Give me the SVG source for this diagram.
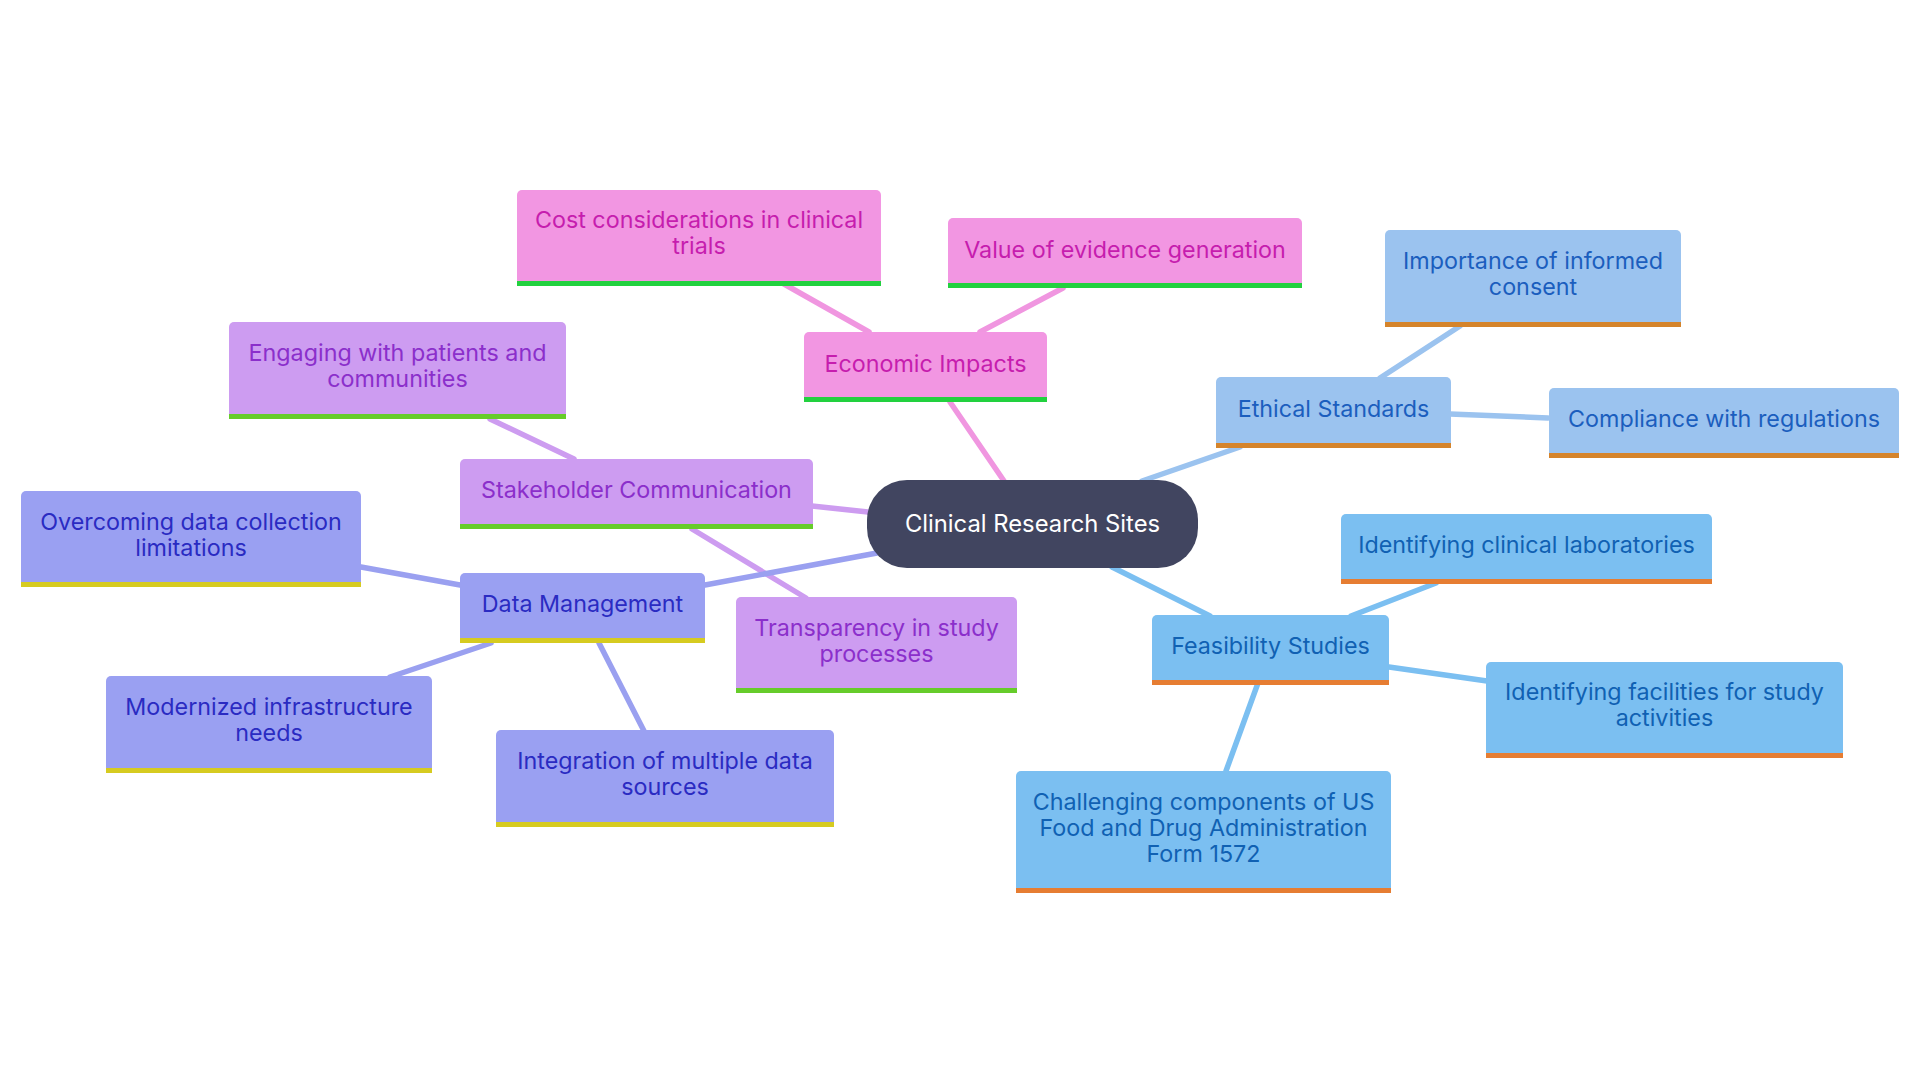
<svg xmlns="http://www.w3.org/2000/svg" width="1920" height="1080" viewBox="0 0 1920 1080">
<style>
text{font-family:Inter,"Noto Sans","Liberation Sans",sans-serif;font-size:23.3px;text-anchor:middle}
.bx{stroke:none}
.econ .bx{fill:#F296E2}.econ text{fill:#C61DAE}.econ .bar{fill:#22D13F}
.stak .bx{fill:#CD9CF1}.stak text{fill:#8B2FCB}.stak .bar{fill:#66CC2A}
.data .bx{fill:#9AA0F2}.data text{fill:#2A2BC2}.data .bar{fill:#D6CB20}
.eth .bx{fill:#9BC3EF}.eth text{fill:#1B5EBE}.eth .bar{fill:#D5842B}
.feas .bx{fill:#7BBFF1}.feas text{fill:#1061B3}.feas .bar{fill:#E67D32}
.root rect{fill:#414560}.root text{fill:#FFFFFF;font-size:23.8px}
#connectors line{stroke-width:5.5;stroke-linecap:round}
.c-econ{stroke:#F096E0}.c-stak{stroke:#CD9CF0}.c-data{stroke:#9AA0F0}.c-eth{stroke:#9BC3EF}.c-feas{stroke:#7BBFF1}
</style>
<rect width="1920" height="1080" fill="#FFFFFF"/>
<g id="connectors">
<line class="c-econ" x1="1004" y1="481" x2="950" y2="402"/>
<line class="c-econ" x1="869" y1="332" x2="784" y2="284"/>
<line class="c-econ" x1="980" y1="332" x2="1063" y2="288"/>
<line class="c-eth" x1="1142" y1="481" x2="1240" y2="447"/>
<line class="c-eth" x1="1380" y1="378" x2="1460" y2="326"/>
<line class="c-eth" x1="1450" y1="414" x2="1548" y2="418"/>
<line class="c-feas" x1="1112" y1="567" x2="1210" y2="616"/>
<line class="c-feas" x1="1351" y1="616" x2="1436" y2="583"/>
<line class="c-feas" x1="1389" y1="667" x2="1487" y2="681"/>
<line class="c-feas" x1="1258" y1="683" x2="1226" y2="771"/>
<line class="c-stak" x1="868" y1="512" x2="812" y2="506"/>
<line class="c-stak" x1="574" y1="459" x2="490" y2="419"/>
<line class="c-stak" x1="692" y1="529" x2="806" y2="598"/>
<line class="c-data" x1="877" y1="553" x2="705" y2="585"/>
<line class="c-data" x1="460" y1="585" x2="361" y2="567"/>
<line class="c-data" x1="491" y1="643" x2="390" y2="677"/>
<line class="c-data" x1="599" y1="643" x2="644" y2="731"/>
</g>
<g id="root" class="root">
<rect x="867" y="480" width="331" height="88" rx="40"/>
<text x="1032.5" y="531.5">Clinical Research Sites</text>
</g>
<g id="economic-impacts" class="econ">
<rect class="bx" x="804" y="332" width="243" height="70" rx="5"/>
<rect class="bar" x="804" y="397" width="243" height="5"/>
<text x="925.5" y="372">Economic Impacts</text>
</g>
<g id="cost-considerations" class="econ">
<rect class="bx" x="517" y="190" width="364" height="96" rx="5"/>
<rect class="bar" x="517" y="281" width="364" height="5"/>
<text x="699" y="228">Cost considerations in clinical</text>
<text x="699" y="254">trials</text>
</g>
<g id="value-evidence" class="econ">
<rect class="bx" x="948" y="218" width="354" height="70" rx="5"/>
<rect class="bar" x="948" y="283" width="354" height="5"/>
<text x="1125" y="258">Value of evidence generation</text>
</g>
<g id="ethical-standards" class="eth">
<rect class="bx" x="1216" y="377" width="235" height="71" rx="5"/>
<rect class="bar" x="1216" y="443" width="235" height="5"/>
<text x="1333.5" y="417">Ethical Standards</text>
</g>
<g id="informed-consent" class="eth">
<rect class="bx" x="1385" y="230" width="296" height="97" rx="5"/>
<rect class="bar" x="1385" y="322" width="296" height="5"/>
<text x="1533" y="269">Importance of informed</text>
<text x="1533" y="295">consent</text>
</g>
<g id="compliance" class="eth">
<rect class="bx" x="1549" y="388" width="350" height="70" rx="5"/>
<rect class="bar" x="1549" y="453" width="350" height="5"/>
<text x="1724" y="427">Compliance with regulations</text>
</g>
<g id="feasibility-studies" class="feas">
<rect class="bx" x="1152" y="615" width="237" height="70" rx="5"/>
<rect class="bar" x="1152" y="680" width="237" height="5"/>
<text x="1270.5" y="654">Feasibility Studies</text>
</g>
<g id="clinical-laboratories" class="feas">
<rect class="bx" x="1341" y="514" width="371" height="70" rx="5"/>
<rect class="bar" x="1341" y="579" width="371" height="5"/>
<text x="1526.5" y="553">Identifying clinical laboratories</text>
</g>
<g id="facilities" class="feas">
<rect class="bx" x="1486" y="662" width="357" height="96" rx="5"/>
<rect class="bar" x="1486" y="753" width="357" height="5"/>
<text x="1664.5" y="700">Identifying facilities for study</text>
<text x="1664.5" y="726">activities</text>
</g>
<g id="form-1572" class="feas">
<rect class="bx" x="1016" y="771" width="375" height="122" rx="5"/>
<rect class="bar" x="1016" y="888" width="375" height="5"/>
<text x="1203.5" y="810">Challenging components of US</text>
<text x="1203.5" y="836">Food and Drug Administration</text>
<text x="1203.5" y="862">Form 1572</text>
</g>
<g id="stakeholder-communication" class="stak">
<rect class="bx" x="460" y="459" width="353" height="70" rx="5"/>
<rect class="bar" x="460" y="524" width="353" height="5"/>
<text x="636.5" y="498">Stakeholder Communication</text>
</g>
<g id="engaging-patients" class="stak">
<rect class="bx" x="229" y="322" width="337" height="97" rx="5"/>
<rect class="bar" x="229" y="414" width="337" height="5"/>
<text x="397.5" y="361">Engaging with patients and</text>
<text x="397.5" y="387">communities</text>
</g>
<g id="transparency" class="stak">
<rect class="bx" x="736" y="597" width="281" height="96" rx="5"/>
<rect class="bar" x="736" y="688" width="281" height="5"/>
<text x="876.5" y="636">Transparency in study</text>
<text x="876.5" y="662">processes</text>
</g>
<g id="data-management" class="data">
<rect class="bx" x="460" y="573" width="245" height="70" rx="5"/>
<rect class="bar" x="460" y="638" width="245" height="5"/>
<text x="582.5" y="612">Data Management</text>
</g>
<g id="overcoming-limitations" class="data">
<rect class="bx" x="21" y="491" width="340" height="96" rx="5"/>
<rect class="bar" x="21" y="582" width="340" height="5"/>
<text x="191" y="530">Overcoming data collection</text>
<text x="191" y="556">limitations</text>
</g>
<g id="modernized-infrastructure" class="data">
<rect class="bx" x="106" y="676" width="326" height="97" rx="5"/>
<rect class="bar" x="106" y="768" width="326" height="5"/>
<text x="269" y="715">Modernized infrastructure</text>
<text x="269" y="741">needs</text>
</g>
<g id="integration-sources" class="data">
<rect class="bx" x="496" y="730" width="338" height="97" rx="5"/>
<rect class="bar" x="496" y="822" width="338" height="5"/>
<text x="665" y="769">Integration of multiple data</text>
<text x="665" y="795">sources</text>
</g>
</svg>
